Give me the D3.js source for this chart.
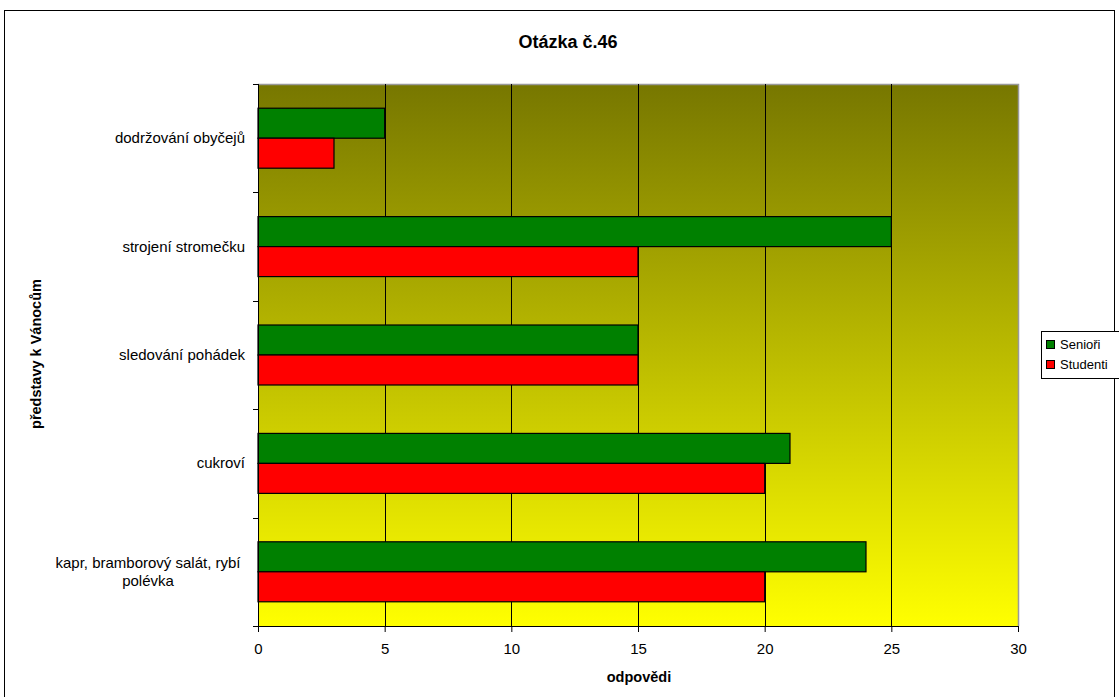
<!DOCTYPE html>
<html><head><meta charset="utf-8">
<script src="https://cdn.jsdelivr.net/npm/d3@7/dist/d3.min.js"></script>
<style>body{margin:0;background:#fff;} text{font-family:"Liberation Sans",Arial,sans-serif;}</style>
</head><body>
<svg id="c" width="1119" height="697"></svg>
<script>
const categories = ["dodržování obyčejů","strojení stromečku","sledování pohádek","cukroví","kapr, bramborový salát, rybí polévka"];
const categoryLines = [["dodržování obyčejů"],["strojení stromečku"],["sledování pohádek"],["cukroví"],["kapr, bramborový salát, rybí","polévka"]];
const seriesNames = ["Senioři","Studenti"];
const seniori = [5,25,15,21,24];
const studenti = [3,15,15,20,20];
const xTicks = [0,5,10,15,20,25,30];
const colors = ["#008000","#ff0000"];

const svg = d3.select("#c");
const L=258,R=1018,T=84,B=626;
svg.append("rect").attr("x",4.5).attr("y",10.5).attr("width",1110).attr("height",700).attr("fill","#fff").attr("stroke","#000").attr("stroke-width",1);

const defs = svg.append("defs");
const g = defs.append("linearGradient").attr("id","bg").attr("x1",0).attr("y1",0).attr("x2",0).attr("y2",1);
g.append("stop").attr("offset","0%").attr("stop-color","#777700");
g.append("stop").attr("offset","100%").attr("stop-color","#ffff00");

const x = d3.scaleLinear().domain([0,30]).range([L,R]);
const y = d3.scaleBand().domain(categories).range([T,B]).paddingInner(0).paddingOuter(0);
const inner = d3.scaleBand().domain(seriesNames).range([0,y.bandwidth()]).paddingOuter(0.807).paddingInner(0);

svg.append("rect").attr("x",L).attr("y",T).attr("width",R-L).attr("height",B-T).attr("fill","url(#bg)");
svg.append("path").attr("d",`M${L},${T+0.5}H${R+0.5}V${B}`).attr("fill","none").attr("stroke","#999").attr("stroke-width",1.5);

svg.append("g").selectAll("line").data(xTicks.filter(d=>d>0&&d<30)).join("line")
  .attr("x1",d=>Math.round(x(d))+0.5).attr("x2",d=>Math.round(x(d))+0.5).attr("y1",T).attr("y2",B).attr("stroke","#000").attr("stroke-width",1);

const data = [seniori, studenti];
seriesNames.forEach((s,si)=>{
  svg.append("g").selectAll("rect").data(categories).join("rect")
    .attr("x",x(0)).attr("y",(c)=>y(c)+inner(s))
    .attr("width",(c,i)=>x(data[si][i])-x(0)).attr("height",inner.bandwidth())
    .attr("fill",colors[si]).attr("stroke","#000").attr("stroke-width",1.2);
});

const xAxis = d3.axisBottom(x).tickValues(xTicks).tickSize(6).tickSizeOuter(0).tickPadding(11);
const xa = svg.append("g").attr("transform",`translate(0,${B})`).call(xAxis);
xa.select(".domain").attr("stroke","#000");
xa.selectAll("text").attr("font-size",15).attr("fill","#000").attr("font-family","Liberation Sans, Arial, sans-serif");

svg.append("line").attr("x1",L+0.5).attr("x2",L+0.5).attr("y1",T).attr("y2",B).attr("stroke","#000");
const bounds = categories.map(c=>y(c)).concat([B]);
svg.append("g").selectAll("line").data(bounds).join("line")
  .attr("x1",L-5).attr("x2",L).attr("y1",d=>Math.round(d)+0.5).attr("y2",d=>Math.round(d)+0.5).attr("stroke","#000");

categories.forEach((c,i)=>{
  const lines = categoryLines[i];
  const cy = y(c)+y.bandwidth()/2;
  const multi = lines.length>1;
  const ax = multi ? 148 : 245;
  const t = svg.append("text").attr("text-anchor",multi?"middle":"end").attr("font-size",15).attr("fill","#000");
  lines.forEach((ln,j)=>{
    t.append("tspan").attr("x",ax).attr("y",cy+5+(j-(lines.length-1)/2)*18).text(ln);
  });
});

svg.append("text").attr("x",568).attr("y",48).attr("text-anchor","middle").attr("font-size",18).attr("font-weight","bold").text("Otázka č.46");
svg.append("text").attr("x",639).attr("y",682).attr("text-anchor","middle").attr("font-size",14.5).attr("font-weight","bold").text("odpovědi");
svg.append("text").attr("transform","translate(41,354) rotate(-90)").attr("text-anchor","middle").attr("font-size",14.5).attr("font-weight","bold").text("představy k Vánocům");

const lg = svg.append("g");
lg.append("rect").attr("x",1041.5).attr("y",331.5).attr("width",80).attr("height",47).attr("fill","#fff").attr("stroke","#000");
seriesNames.forEach((s,i)=>{
  lg.append("rect").attr("x",1046.5).attr("y",340.5+i*20).attr("width",8).attr("height",8).attr("fill",colors[i]).attr("stroke","#000");
  lg.append("text").attr("x",1060).attr("y",349+i*20).attr("font-size",13).text(s);
});
</script>
</body></html>
